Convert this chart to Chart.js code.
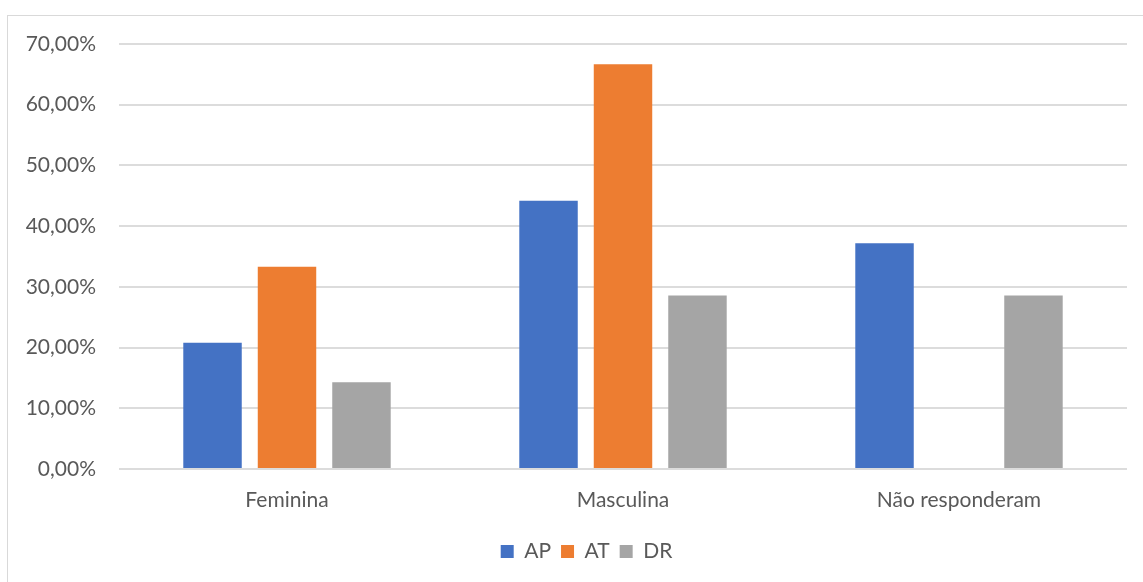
<!DOCTYPE html>
<html>
<head>
<meta charset="utf-8">
<script src="https://cdn.jsdelivr.net/npm/chart.js@4/dist/chart.umd.min.js"></script>
<style>
  html, body { margin: 0; padding: 0; background: #fff; overflow: hidden; }
  .frame {
    position: absolute; left: 7px; top: 15px; width: 1160px; height: 600px;
    border: 1px solid #d9d9d9; box-sizing: border-box;
  }
  .wrap { position: absolute; left: 0; top: 0; width: 1143px; height: 582px; }
</style>
</head>
<body>
<div class="frame"></div>
<div class="wrap"><canvas id="chart"></canvas></div>
<script>
const categories = ["Feminina", "Masculina", "Não responderam"];
const apValues = [20.8, 44.2, 37.2];
const atValues = [33.33, 66.67, 0];
const drValues = [14.29, 28.57, 28.57];
const yTicks = [0, 10, 20, 30, 40, 50, 60, 70];

const textColor = "#595959";
const font = { family: "Lato, 'Open Sans', sans-serif", size: 21 };

// nudge the legend so it sits centred under the whole frame
const legendShift = {
  id: "legendShift",
  afterLayout(chart) {
    chart.legend.left += 23;
    chart.legend.right += 23;
  }
};

new Chart(document.getElementById("chart"), {
  type: "bar",
  data: {
    labels: categories,
    datasets: [
      { label: "AP", data: apValues, backgroundColor: "#4472C4" },
      { label: "AT", data: atValues, backgroundColor: "#ED7D31" },
      { label: "DR", data: drValues, backgroundColor: "#A5A5A5" }
    ]
  },
  options: {
    responsive: true,
    maintainAspectRatio: false,
    animation: false,
    categoryPercentage: 0.665,
    barPercentage: 0.785,
    layout: { padding: { top: 44, right: 16, bottom: 10, left: 0 } },
    plugins: {
      legend: {
        position: "bottom",
        labels: {
          color: textColor,
          font: font,
          boxWidth: 13,
          boxHeight: 13,
          padding: 10
        }
      },
      tooltip: { enabled: false }
    },
    scales: {
      x: {
        grid: { display: false, drawTicks: false },
        border: { display: false },
        ticks: { color: textColor, font: font, padding: 19 },
        afterFit: (s) => { s.height = 62; }
      },
      y: {
        min: 0,
        max: 70,
        afterBuildTicks: (s) => { s.ticks = yTicks.map(v => ({ value: v })); },
        grid: { color: "#dcdcdc", lineWidth: 2, drawTicks: false },
        border: { display: false },
        ticks: {
          color: textColor,
          font: font,
          padding: 23,
          callback: (v) => v.toFixed(2).replace(".", ",") + "%"
        },
        afterFit: (s) => { s.width = 119; }
      }
    }
  },
  plugins: [legendShift]
});
</script>
</body>
</html>
